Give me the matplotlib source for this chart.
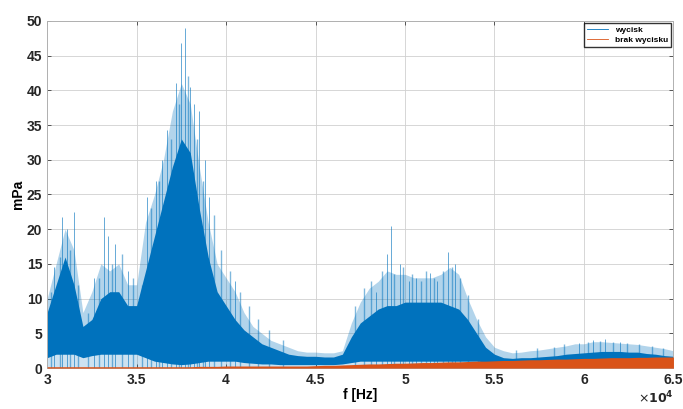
import matplotlib.pyplot as plt
from matplotlib.ticker import FuncFormatter
import numpy as np

plt.rcParams['font.family'] = ['Liberation Sans', 'DejaVu Sans']

# frequency grid [Hz] and blue (wycisk) envelopes [mPa]
freq = [30000, 30500, 31000, 31500, 32000, 32500, 33000, 33500, 34000, 34500,
        35000, 35500, 36000, 36500, 37000, 37500, 38000, 38500, 39000, 39500,
        40000, 40500, 41000, 41500, 42000, 42500, 43000, 43500, 44000, 44500,
        45000, 45500, 46000, 46500, 47000, 47500, 48000, 48500, 49000, 49500,
        50000, 50500, 51000, 51500, 52000, 52500, 53000, 53500, 54000, 54500,
        55000, 55500, 56000, 56500, 57000, 57500, 58000, 58500, 59000, 59500,
        60000, 60500, 61000, 61500, 62000, 62500, 63000, 63500, 64000, 64500,
        65000]
dense_top = [8, 12, 16, 12, 6, 7, 10, 11, 11, 9,
             9, 14, 19, 24, 29, 33, 31, 23, 16, 11,
             9, 7, 5.5, 4.5, 3.5, 3, 2.5, 2, 1.8, 1.7,
             1.7, 1.6, 1.6, 2, 4.5, 6.5, 7.5, 8.5, 9, 9,
             9.5, 9.5, 9.5, 9.5, 9.5, 9, 8.5, 7, 5, 3,
             2, 1.5, 1.4, 1.5, 1.5, 1.6, 1.7, 1.8, 2, 2.1,
             2.2, 2.3, 2.4, 2.4, 2.4, 2.3, 2.3, 2.1, 2, 1.8,
             1.7]
fuzzy_top = [10, 15, 20, 17, 8, 11, 15, 14, 15, 12,
             12, 21, 25, 30, 37, 41, 38, 29, 21, 15,
             13, 11, 8, 6, 5, 4, 3.5, 3, 2.5, 2.3,
             2.3, 2.2, 2.2, 2.5, 6.5, 9.5, 11.5, 12.5, 14, 13.5,
             13.5, 13, 13, 13, 13.5, 14.5, 13.5, 10, 7, 4.5,
             3, 2.5, 2.2, 2.3, 2.5, 2.6, 2.8, 3, 3.2, 3.5,
             3.5, 3.8, 3.8, 3.7, 3.6, 3.5, 3.4, 3.2, 3, 2.8,
             2.5]
low_env = [1.5, 2, 2, 2, 1.5, 1.8, 2, 2, 2, 2,
           2, 1.5, 1, 0.8, 0.6, 0.5, 0.6, 0.8, 1, 1,
           1, 1, 0.8, 0.7, 0.6, 0.6, 0.5, 0.5, 0.5, 0.5,
           0.5, 0.5, 0.5, 0.6, 0.8, 1, 1, 1, 1, 1,
           1, 1, 1, 1, 1, 1, 1, 1, 1, 0.9,
           0.8, 0.8, 0.8, 0.8, 0.8, 0.8, 0.8, 0.8, 0.8, 0.8,
           0.8, 0.8, 0.8, 0.8, 0.8, 0.8, 0.8, 0.8, 0.8, 0.8,
           0.8]

# single tall spikes of the blue trace
spike_f = [30400, 30850, 31100, 31500, 32600, 33200, 33400, 33800, 34500,
           35600, 36100, 36400, 36700, 37200, 37500, 37700, 38000, 38200,
           38500, 38800, 39050, 40500, 48400, 49000, 49200, 49700, 50200,
           50600, 51400, 51800, 52400, 52800, 59700, 60500, 61200, 62000]
spike_v = [14.5, 21.7, 20, 22.5, 13, 21.7, 19, 17.8, 14,
           24.6, 27, 30, 34.3, 41, 46.8, 49, 40.5, 38,
           37, 30, 24.6, 12.5, 11, 16.5, 20.5, 15, 12.6,
           13, 13.7, 12.6, 16.7, 15, 3.6, 4, 4.2, 3.8]

# smaller spikes giving the ragged edge
small_f = [30200, 30700, 31300, 31700, 32300, 32900, 33600, 34200, 34800,
           35300, 35800, 36250, 36900, 37350, 37850, 38350, 38700, 39300,
           39700, 40200, 40800, 41300, 41800, 42400, 43200, 47200, 47700,
           48100, 48700, 49400, 49900, 50400, 50900, 51200, 51600, 52100,
           52600, 53100, 53500, 54100, 56200, 57400, 58300, 58900, 60200,
           60900, 61600, 62400, 63100, 63800, 64400]
small_v = [11, 16, 17, 12, 8, 13, 15, 16.5, 13,
           12, 23, 27, 33, 38, 42, 33, 27, 22,
           17, 14, 11, 9, 7, 5.5, 4, 9, 11.5,
           12.5, 14, 13.5, 14.5, 13.5, 12.5, 14, 13, 14,
           14.5, 13, 10.5, 7, 2.6, 2.9, 3.1, 3.4, 3.7,
           3.9, 3.8, 3.6, 3.5, 3.2, 2.9]

# orange (brak wycisku) band
orange_top = [0.2, 0.2, 0.2, 0.2, 0.2, 0.2, 0.2, 0.2, 0.2, 0.2,
              0.2, 0.2, 0.2, 0.2, 0.2, 0.2, 0.2, 0.25, 0.25, 0.25,
              0.3, 0.3, 0.3, 0.3, 0.3, 0.3, 0.3, 0.3, 0.3, 0.3,
              0.35, 0.4, 0.4, 0.45, 0.5, 0.55, 0.6, 0.6, 0.65, 0.7,
              0.7, 0.75, 0.8, 0.8, 0.85, 0.9, 0.9, 0.95, 1.0, 1.0,
              1.05, 1.1, 1.1, 1.15, 1.2, 1.2, 1.25, 1.3, 1.3, 1.35,
              1.4, 1.4, 1.45, 1.5, 1.5, 1.5, 1.55, 1.55, 1.6, 1.6,
              1.6]

blue = '#0072BD'
orange = '#D95319'

fig = plt.figure(figsize=(6.83, 4.09), dpi=100)
ax = fig.add_axes([0.069, 0.100, 0.917, 0.849])

ax.fill_between(freq, low_env, fuzzy_top, color=blue, alpha=0.3, lw=0)
ax.fill_between(freq, low_env, dense_top, color=blue, lw=0)
ax.fill_between(freq, 0, low_env, color=blue, alpha=0.2, lw=0)
ax.vlines(small_f, 0, small_v, color=blue, lw=1.0, alpha=0.5)
ax.vlines(spike_f, 0, spike_v, color=blue, lw=0.7, alpha=0.6)
ax.fill_between(freq, 0, orange_top, color=orange, lw=0, zorder=3)

# legend handles
ax.plot([], [], color=blue, lw=0.6, label='wycisk')
ax.plot([], [], color=orange, lw=0.6, label='brak wycisku')
leg = ax.legend(loc='upper right', frameon=True, fancybox=False,
                handlelength=2.5, borderpad=0.35, labelspacing=0.25,
                borderaxespad=0.3, prop={'weight': 'bold', 'size': 6})
leg.get_frame().set_edgecolor('black')
leg.get_frame().set_linewidth(1.0)

ax.set_xlim(30000, 65000)
ax.set_ylim(0, 50)
ax.set_xticks(np.arange(30000, 65001, 5000))
ax.set_yticks(np.arange(0, 51, 5))
ax.xaxis.set_major_formatter(FuncFormatter(lambda v, p: '%g' % (v / 1e4)))
ax.grid(True, color='#d0d0d0', lw=0.6)
ax.set_axisbelow(True)
ax.tick_params(direction='in', top=True, right=True, length=3, width=0.6,
               colors='#404040', labelsize=10)
for lab in ax.get_xticklabels() + ax.get_yticklabels():
    lab.set_fontweight('bold')
    lab.set_color('#262626')
for s in ax.spines.values():
    s.set_color('#b0b0b0')
    s.set_linewidth(0.7)

ax.set_xlabel('f [Hz]', fontsize=10, fontweight='bold', labelpad=1)
ax.set_ylabel('mPa', fontsize=10, fontweight='bold', labelpad=1)
ax.text(1.0, -0.085, r'$\times\mathbf{10^{4}}$', transform=ax.transAxes,
        ha='right', va='center', fontsize=9, color='#262626')

fig.savefig('out.png', dpi=100)
